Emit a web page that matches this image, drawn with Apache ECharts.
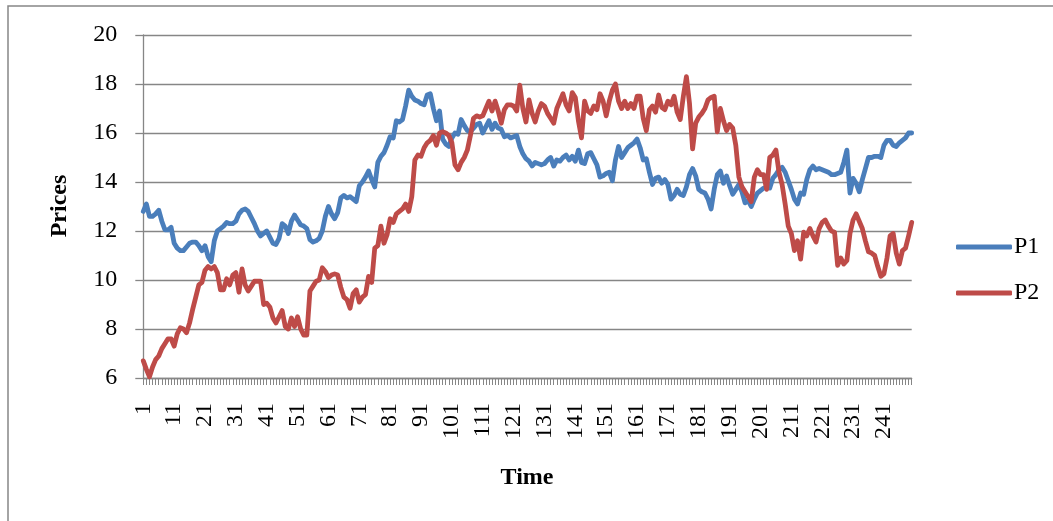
<!DOCTYPE html>
<html>
<head>
<meta charset="utf-8">
<script src="https://cdn.jsdelivr.net/npm/echarts@6/dist/echarts.min.js"></script>
<style>
html,body{margin:0;padding:0;background:#fff;}
#chart{width:1053px;height:521px;}
</style>
</head>
<body>
<div id="chart"></div>
<script>
// Categories 1..250
var categories = [];
for (var i = 1; i <= 250; i++) categories.push(String(i));

var seriesNames = ['P1', 'P2'];

var p1 = [
12.8, 13.1, 12.6, 12.6, 12.7, 12.85, 12.4, 12.05, 12.05, 12.15,
11.5, 11.3, 11.2, 11.2, 11.35, 11.5, 11.55, 11.55, 11.4, 11.2,
11.4, 10.95, 10.75, 11.6, 12.0, 12.1, 12.2, 12.35, 12.3, 12.3,
12.4, 12.7, 12.85, 12.9, 12.8, 12.55, 12.3, 12.0, 11.8, 11.9,
12.0, 11.75, 11.5, 11.45, 11.7, 12.3, 12.2, 11.9, 12.4, 12.65,
12.45, 12.25, 12.2, 12.1, 11.65, 11.55, 11.6, 11.7, 12.0, 12.6,
13.0, 12.7, 12.5, 12.75, 13.35, 13.45, 13.35, 13.4, 13.3, 13.2,
13.85, 14.0, 14.2, 14.45, 14.1, 13.8, 14.8, 15.05, 15.2, 15.5,
15.85, 15.8, 16.5, 16.45, 16.55, 17.1, 17.75, 17.5, 17.35, 17.3,
17.2, 17.15, 17.55, 17.6, 17.0, 16.5, 16.9, 15.75, 15.55, 15.45,
15.8, 16.0, 15.95, 16.55, 16.3, 16.1, 16.05, 16.2, 16.35, 16.4,
16.0, 16.25, 16.5, 16.15, 16.4, 16.2, 16.15, 15.85, 15.9, 15.8,
15.85, 15.9, 15.45, 15.15, 14.95, 14.85, 14.65, 14.8, 14.75, 14.7,
14.75, 14.9, 15.0, 14.65, 14.9, 14.85, 15.0, 15.1, 14.9, 15.05,
14.85, 15.3, 14.8, 14.75, 15.15, 15.2, 14.95, 14.7, 14.2, 14.25,
14.35, 14.4, 14.05, 14.9, 15.45, 15.0, 15.2, 15.4, 15.5, 15.6,
15.75, 15.4, 14.9, 14.95, 14.4, 13.9, 14.15, 14.2, 13.95, 14.1,
13.9, 13.3, 13.45, 13.7, 13.5, 13.45, 13.8, 14.3, 14.55, 14.25,
13.7, 13.6, 13.55, 13.3, 12.9, 13.7, 14.3, 14.45, 13.95, 14.25,
13.85, 13.5, 13.7, 13.9, 13.6, 13.15, 13.25, 13.0, 13.3, 13.55,
13.65, 13.75, 13.8, 13.75, 14.15, 14.3, 14.5, 14.6, 14.4, 14.05,
13.7, 13.3, 13.1, 13.55, 13.5, 14.1, 14.5, 14.65, 14.5, 14.55,
14.5, 14.45, 14.4, 14.3, 14.3, 14.35, 14.4, 14.8, 15.3, 13.55,
14.15, 13.95, 13.6, 14.1, 14.55, 15.0, 15.0, 15.05, 15.05, 15.0,
15.5, 15.7, 15.7, 15.5, 15.45, 15.6, 15.7, 15.8, 16.0, 16.0
];

var p2 = [
6.7, 6.35, 6.05, 6.45, 6.75, 6.9, 7.2, 7.4, 7.6, 7.6,
7.3, 7.8, 8.05, 8.0, 7.85, 8.25, 8.8, 9.3, 9.8, 9.9,
10.4, 10.55, 10.45, 10.55, 10.3, 9.6, 9.6, 10.05, 9.8, 10.2,
10.3, 9.5, 10.45, 9.8, 9.55, 9.75, 9.95, 9.95, 9.95, 9.0,
9.05, 8.9, 8.45, 8.25, 8.5, 8.75, 8.1, 8.0, 8.45, 8.1,
8.5, 8.0, 7.75, 7.75, 9.55, 9.75, 9.95, 10.0, 10.5, 10.35,
10.1, 10.2, 10.25, 10.2, 9.7, 9.3, 9.2, 8.85, 9.45, 9.6,
9.1, 9.3, 9.4, 10.15, 9.9, 11.3, 11.4, 12.2, 11.5, 11.85,
12.5, 12.35, 12.7, 12.8, 12.9, 13.1, 12.8, 13.4, 14.9, 15.1,
15.05, 15.4, 15.6, 15.7, 15.9, 15.5, 16.0, 16.05, 16.0, 15.9,
15.6, 14.7, 14.5, 14.8, 15.0, 15.3, 15.9, 16.6, 16.7, 16.65,
16.7, 17.0, 17.3, 16.9, 17.3, 16.9, 16.4, 16.95, 17.15, 17.15,
17.1, 16.9, 17.95, 17.0, 16.45, 17.35, 16.8, 16.45, 16.9, 17.2,
17.1, 16.8, 16.6, 16.4, 17.0, 17.3, 17.6, 17.15, 16.9, 17.65,
17.45, 16.5, 15.8, 17.3, 16.9, 16.8, 17.1, 16.95, 17.6, 17.3,
16.7, 17.3, 17.75, 18.0, 17.3, 17.0, 17.3, 17.0, 17.2, 17.0,
17.5, 17.5, 16.6, 16.1, 16.95, 17.1, 16.85, 17.55, 17.05, 16.95,
17.3, 17.15, 17.5, 16.85, 16.55, 17.5, 18.3, 17.2, 15.35, 16.4,
16.65, 16.8, 17.0, 17.35, 17.45, 17.5, 16.05, 17.0, 16.5, 16.1,
16.35, 16.2, 15.5, 14.2, 13.8, 13.6, 13.4, 13.2, 14.2, 14.5,
14.3, 14.3, 13.7, 15.0, 15.1, 15.3, 14.4, 13.9, 13.1, 12.2,
11.9, 11.2, 11.6, 10.85, 11.95, 11.8, 12.1, 11.8, 11.55, 12.1,
12.35, 12.45, 12.2, 12.0, 11.95, 10.6, 10.9, 10.65, 10.8, 11.9,
12.45, 12.7, 12.4, 12.1, 11.6, 11.15, 11.1, 11.0, 10.55, 10.15,
10.25, 10.9, 11.8, 11.9, 11.1, 10.65, 11.2, 11.3, 11.8, 12.35
];

var yTicks = { min: 6, max: 20, interval: 2 };

var FONT = "'Liberation Serif', 'Times New Roman', serif";
var FS = 24;
var GRAY = '#868686';
var BLUE = '#4A7EBB';
var RED = '#BE4B48';

var chart = echarts.init(document.getElementById('chart'), null, { renderer: 'canvas' });

chart.setOption({
  backgroundColor: '#fff',
  animation: false,
  grid: { left: 143.3, top: 35, width: 768.4, height: 343, containLabel: false },
  legend: {
    orient: 'vertical',
    left: 951,
    top: 230,
    itemWidth: 56,
    itemHeight: 5,
    itemGap: 22,
    icon: 'roundRect',
    data: seriesNames,
    textStyle: { fontFamily: FONT, fontSize: FS, color: '#000', lineHeight: 24, padding: [0, 0, 0, -3] }
  },
  xAxis: {
    type: 'category',
    data: categories,
    boundaryGap: false,
    axisLine: { show: true, lineStyle: { color: GRAY, width: 1.3 } },
    axisTick: { show: true, interval: 0, length: 7, lineStyle: { color: GRAY, width: 1 } },
    axisLabel: {
      interval: 9,
      rotate: 90,
      margin: 25,
      fontFamily: FONT,
      fontSize: FS,
      color: '#000'
    },
    splitLine: { show: false }
  },
  yAxis: {
    type: 'value',
    min: yTicks.min,
    max: yTicks.max,
    interval: yTicks.interval,
    axisLine: { show: true, lineStyle: { color: GRAY, width: 1.3 } },
    axisTick: { show: true, length: 8, lineStyle: { color: GRAY, width: 1.3 } },
    axisLabel: { margin: 26, fontFamily: FONT, fontSize: FS, color: '#000' },
    splitLine: { show: true, lineStyle: { color: GRAY, width: 1.3 } }
  },
  series: [
    {
      name: seriesNames[0],
      type: 'line',
      data: p1,
      symbol: 'none',
      showSymbol: false,
      itemStyle: { color: BLUE },
      lineStyle: { color: BLUE, width: 4.8, join: 'round', cap: 'round' },
      z: 3
    },
    {
      name: seriesNames[1],
      type: 'line',
      data: p2,
      symbol: 'none',
      showSymbol: false,
      itemStyle: { color: RED },
      lineStyle: { color: RED, width: 4.8, join: 'round', cap: 'round' },
      z: 4
    }
  ],
  graphic: [
    {
      type: 'rect',
      shape: { x: 8, y: 6, width: 1200, height: 700 },
      style: { fill: 'none', stroke: GRAY, lineWidth: 1.5 },
      silent: true,
      z: -10
    },
    {
      type: 'text',
      x: 60, y: 206,
      rotation: Math.PI / 2,
      style: {
        text: 'Prices', fontFamily: FONT, fontSize: FS, fontWeight: 'bold',
        fill: '#000', align: 'center', verticalAlign: 'middle'
      }
    },
    {
      type: 'text',
      x: 527, y: 478,
      style: {
        text: 'Time', fontFamily: FONT, fontSize: FS, fontWeight: 'bold',
        fill: '#000', align: 'center', verticalAlign: 'middle'
      }
    }
  ]
});
</script>
</body>
</html>
